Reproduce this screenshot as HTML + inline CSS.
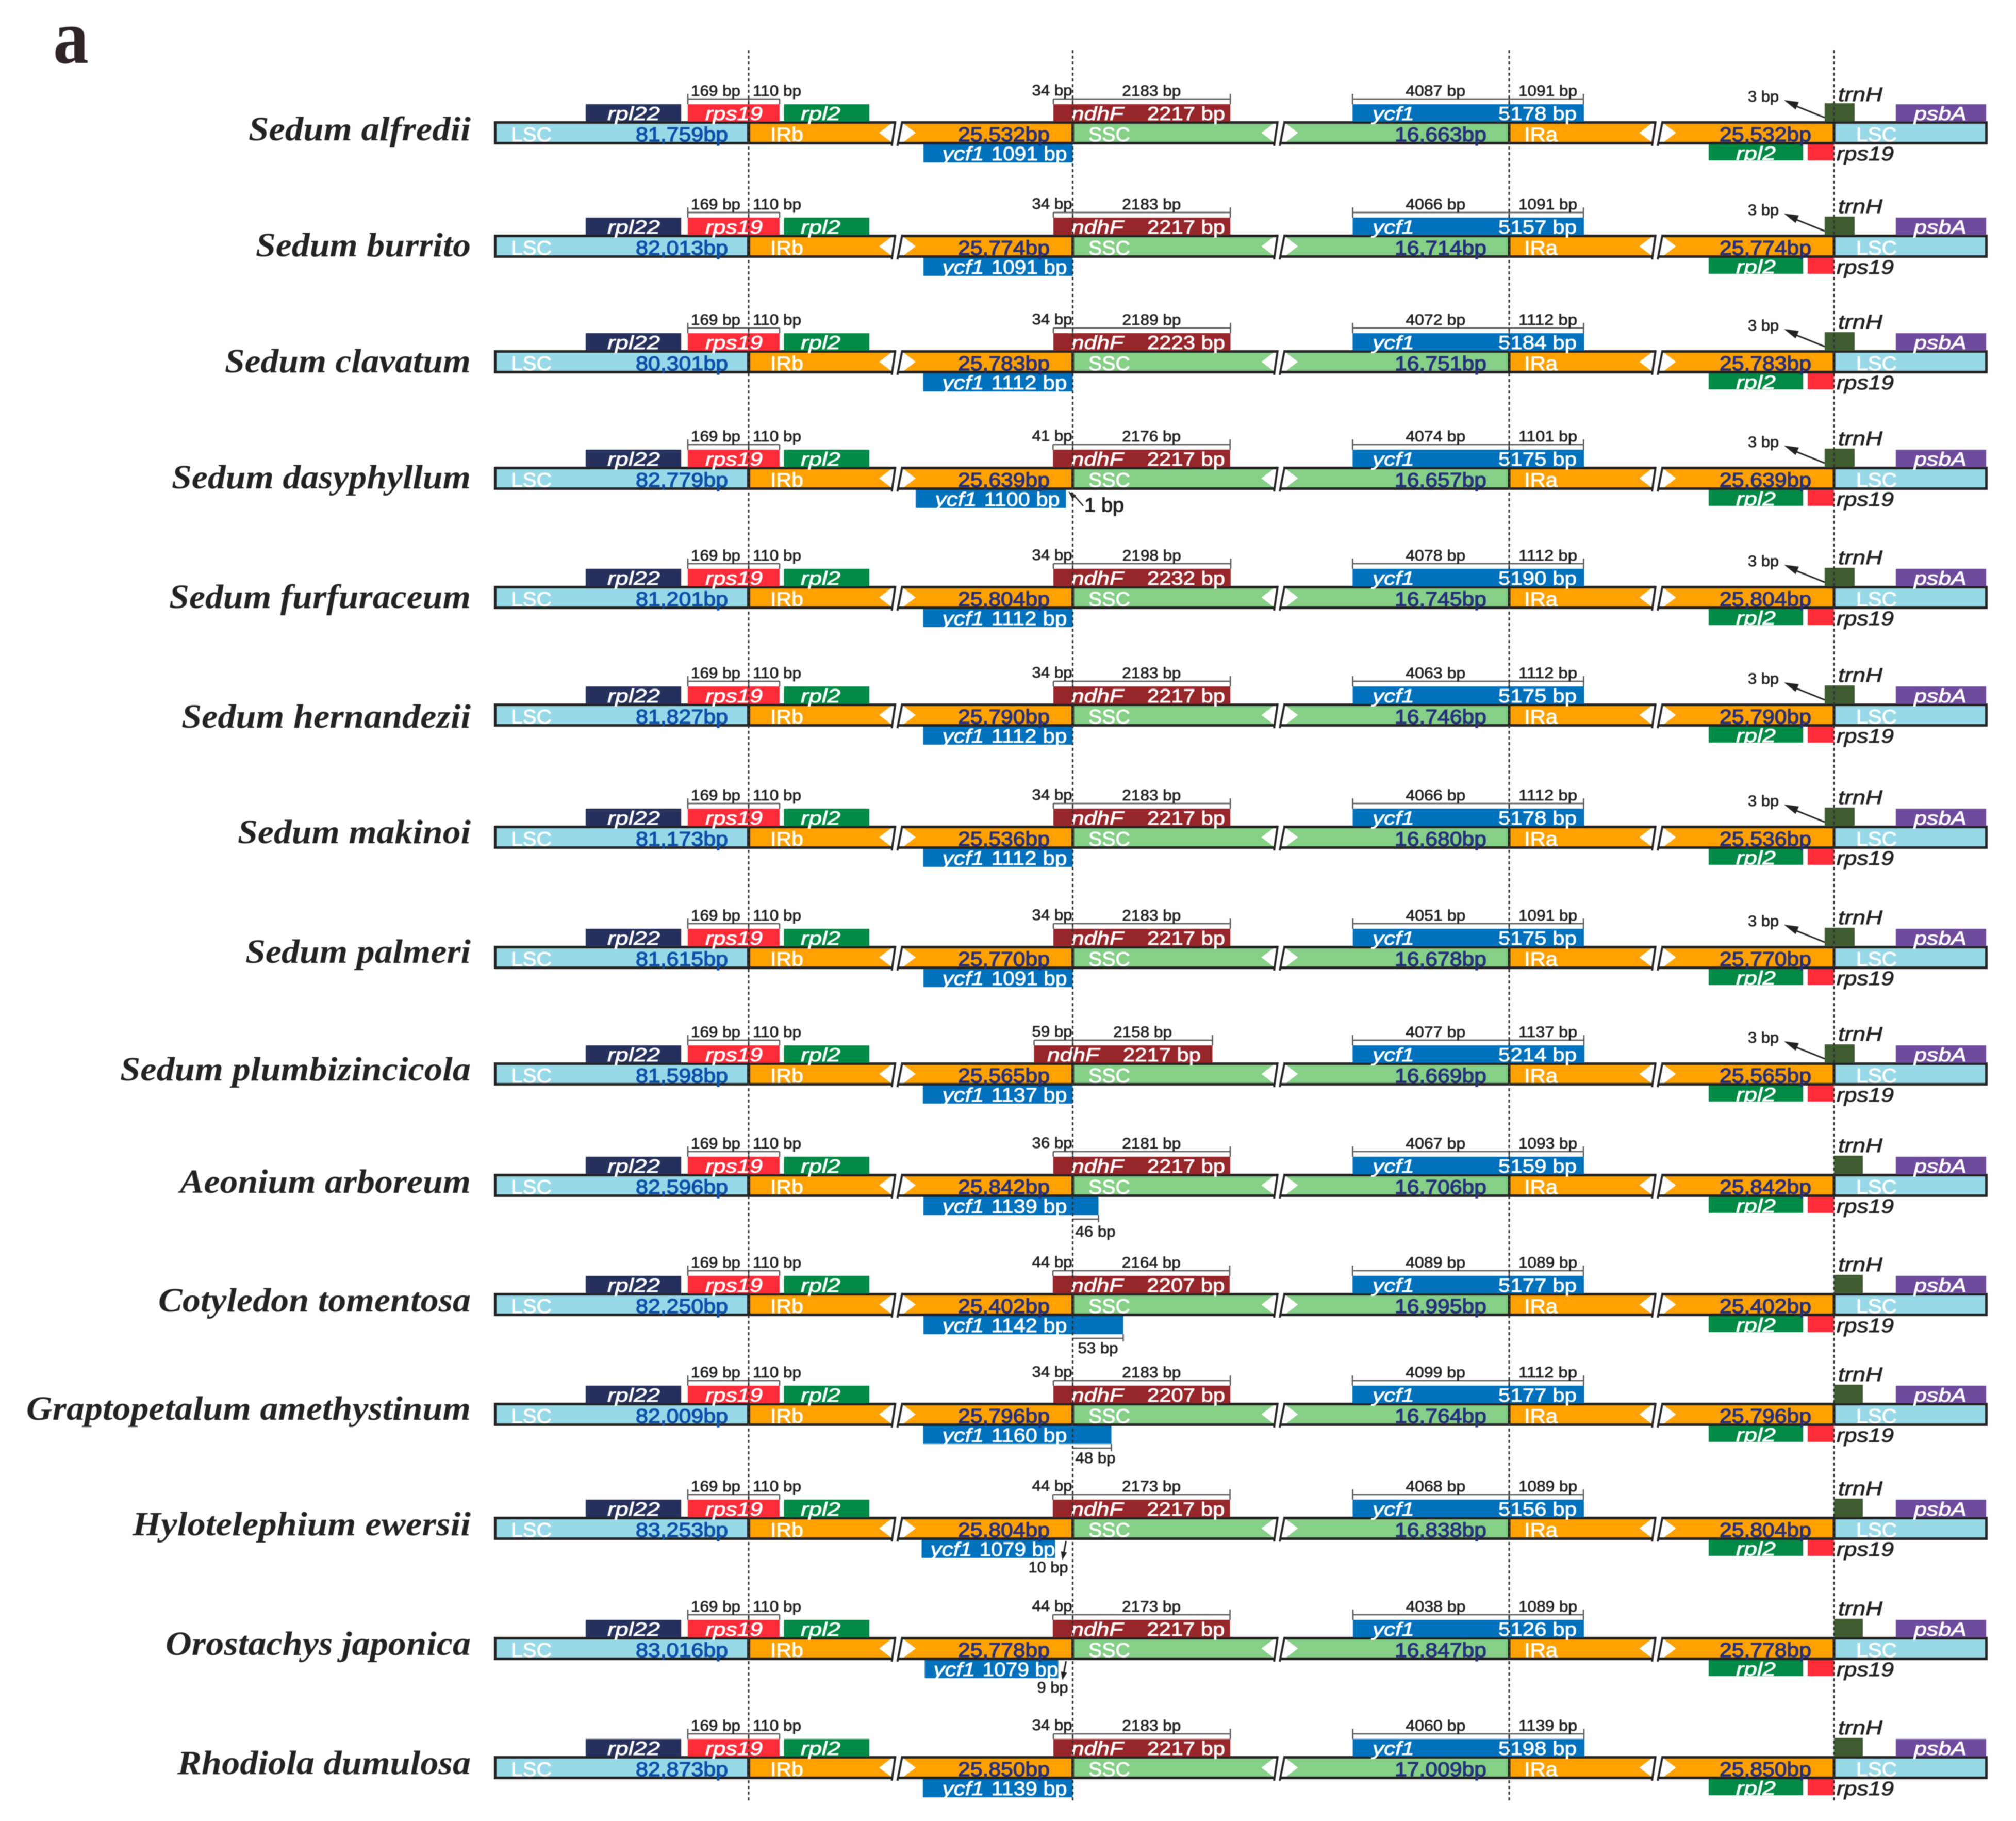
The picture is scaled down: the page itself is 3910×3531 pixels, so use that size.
<!DOCTYPE html>
<html lang="en">
<head>
<meta charset="utf-8">
<title>IR junction comparison of chloroplast genomes</title>
<style>
  html, body { margin: 0; padding: 0; background: #fff; }
  #chart { display: block; width: 3910px; height: 3531px; filter: blur(0.7px); }
  text { font-family: "Liberation Sans", sans-serif; }
</style>
</head>
<body>
<svg id="chart" xmlns="http://www.w3.org/2000/svg" width="3910" height="3531" viewBox="0 0 3910 3531">
  <rect x="0" y="0" width="3910" height="3531" fill="#ffffff"/>
  <text x="103" y="122" font-size="150" font-weight="700" fill="#2f2426" textLength="69" lengthAdjust="spacingAndGlyphs" style="font-family:'Liberation Serif',serif">a</text>
</svg>
<script>
/* ---------- data ---------- */
const species = ["Sedum alfredii","Sedum burrito","Sedum clavatum","Sedum dasyphyllum","Sedum furfuraceum","Sedum hernandezii","Sedum makinoi","Sedum palmeri","Sedum plumbizincicola","Aeonium arboreum","Cotyledon tomentosa","Graptopetalum amethystinum","Hylotelephium ewersii","Orostachys japonica","Rhodiola dumulosa"];
const lscBp = [81759,82013,80301,82779,81201,81827,81173,81615,81598,82596,82250,82009,83253,83016,82873];
const irBp = [25532,25774,25783,25639,25804,25790,25536,25770,25565,25842,25402,25796,25804,25778,25850];
const sscBp = [16663,16714,16751,16657,16745,16746,16680,16678,16669,16706,16995,16764,16838,16847,17009];
const rps19LeftBp = [169,169,169,169,169,169,169,169,169,169,169,169,169,169,169];
const rps19RightBp = [110,110,110,110,110,110,110,110,110,110,110,110,110,110,110];
const ndhfLeftBp = [34,34,34,41,34,34,34,34,59,36,44,34,44,44,34];
const ndhfRightBp = [2183,2183,2189,2176,2198,2183,2183,2183,2158,2181,2164,2183,2173,2173,2183];
const ndhfTotalBp = [2217,2217,2223,2217,2232,2217,2217,2217,2217,2217,2207,2207,2217,2217,2217];
const ycf1LeftBp = [4087,4066,4072,4074,4078,4063,4066,4051,4077,4067,4089,4099,4068,4038,4060];
const ycf1RightBp = [1091,1091,1112,1101,1112,1112,1112,1091,1137,1093,1089,1112,1089,1089,1139];
const ycf1TotalBp = [5178,5157,5184,5175,5190,5175,5178,5175,5214,5159,5177,5177,5156,5126,5198];
const ycf1PseudoBp = [1091,1091,1112,1100,1112,1112,1112,1091,1137,1139,1142,1160,1079,1079,1139];
/* positive: extends past the IRb/SSC junction; negative: stops short of it */
const ycf1OverBp = [0,0,0,-1,0,0,0,0,0,46,53,48,-10,-9,0];
const trnHGapBp = [3,3,3,3,3,3,3,3,3,0,0,0,0,0,0];

/* ---------- layout (rows are hand spaced in the figure) ---------- */
const rowTops = [235,455,679,905,1136,1364,1601,1834,2060,2276,2507,2720,2941,3174,3405];
const labelDrops = [37,42,43,42,43,47,34,33,35,37,36,33,36,35,35];
const labelWidths = [431,417,477,580,585,561,452,437,680,564,606,862,656,592,569];

const BAR_L = 958, BAR_R = 3855;
const J_LSC_IRB = 1452, J_IRB_SSC = 2080.5, J_SSC_IRA = 2927, J_IRA_LSC = 3557;
const BREAK_IRB = 1740, BREAK_SSC = 2481.5, BREAK_IRA = 3214.5;
const C = { lsc:"#98d9e8", ir:"#ffa100", ssc:"#85cf87", rpl22:"#26305c", rps19:"#fe2b39", rpl2:"#008a45",
            ndhf:"#96262a", ycf1:"#0071bd", psba:"#6f4b9d", trnh:"#3f5b30", ink:"#222222",
            lscText:"#0d4fa8", regionText:"#25307c", guide:"#555555" };

/* ---------- scales: bp to px (the diagram is not to true scale) ---------- */
function piecewise(domain, range) {
  return function (v) {
    let i = 0;
    while (i < domain.length - 2 && v > domain[i + 1]) i++;
    const t = (v - domain[i]) / (domain[i + 1] - domain[i]);
    return range[i] + t * (range[i + 1] - range[i]);
  };
}
const rps19LeftPx = piecewise([0, 169], [0, 118]);
const rps19RightPx = piecewise([0, 110], [0, 60]);
const ndhfLeftPx = piecewise([34, 44, 59], [37.5, 38.5, 75]);
const ndhfRightPx = piecewise([2158, 2164, 2198], [271, 304.5, 306.5]);
const ycf1LeftPx = piecewise([4038, 4099], [303, 304]);
const ycf1RightPx = piecewise([1089, 1139], [144, 145]);
const pseudoInIrPx = piecewise([1089, 1139], [289.5, 290.5]);
const pseudoOverPx = piecewise([0, 46, 48, 53], [0, 50, 75, 98]);
const pseudoGapPx = piecewise([1, 9, 10], [13, 28, 34]);
const pseudoGappedWidthPx = piecewise([1079, 1100], [259, 291.5]);
const trnHGapPx = piecewise([0, 3], [0, 18]);

/* ---------- drawing helpers ---------- */
const NS = "http://www.w3.org/2000/svg";
const svg = document.getElementById("chart");

function node(parent, tag, attrs) {
  const e = document.createElementNS(NS, tag);
  for (const k in attrs) e.setAttribute(k, attrs[k]);
  parent.appendChild(e);
  return e;
}
function box(parent, x0, y0, x1, y1, fill) {
  return node(parent, "rect", { x: x0, y: y0, width: x1 - x0, height: y1 - y0, fill: fill });
}
function poly(parent, pts, fill) {
  return node(parent, "polygon", { points: pts.map(p => p.join(",")).join(" "), fill: fill });
}
function seg(parent, x0, y0, x1, y1, stroke, w) {
  return node(parent, "line", { x1: x0, y1: y0, x2: x1, y2: y1, stroke: stroke, "stroke-width": w });
}
/* align: 0 start, 0.5 middle, 1 end; width is the printed width in the figure */
function label(parent, str, x, y, size, width, fill, align, style) {
  const s = style || {};
  const t = node(parent, "text", {
    x: x - width * align, y: y, "font-size": size, fill: fill,
    textLength: width, lengthAdjust: "spacingAndGlyphs"
  });
  if (s.italic) t.setAttribute("font-style", "italic");
  if (s.bold) t.setAttribute("font-weight", "700");
  if (s.stroke) { t.setAttribute("stroke", fill); t.setAttribute("stroke-width", s.stroke); }
  t.textContent = str;
  return t;
}
function commaBp(v) { return v.toLocaleString("en-US") + "bp"; }
function arrowHead(parent, tipX, tipY, fromX, fromY, len, halfW, fill) {
  const dx = tipX - fromX, dy = tipY - fromY, d = Math.hypot(dx, dy), ux = dx / d, uy = dy / d;
  return poly(parent, [[tipX, tipY],
    [tipX - ux * len - uy * halfW, tipY - uy * len + ux * halfW],
    [tipX - ux * len + uy * halfW, tipY - uy * len - ux * halfW]], fill);
}

/* ---------- one genome row ---------- */
function drawBreak(row, bx, T) {
  const gap = poly(row, [[bx - 4, T - 1], [bx + 10, T - 1], [bx + 1, T + 47], [bx - 11, T + 47]], "#ffffff");
  
  
  const fillGap = box(row, bx - 12, T + 5, bx + 13.5, T + 40, "#ffffff");
  
  
  const left = poly(row, [[bx - 35, T + 22.5], [bx - 12, T + 5], [bx - 12, T + 40]], "#ffffff");
  
  
  const right = poly(row, [[bx + 36, T + 22.5], [bx + 13, T + 5], [bx + 13, T + 40]], "#ffffff");
  
  
  const s1 = seg(row, bx - 10.5, T + 48, bx - 3.5, T + 0, C.ink, 4);
  
  
  const s2 = seg(row, bx + 0.5, T + 48, bx + 10, T + 0, C.ink, 4);
  
  
}

function drawBracket(row, x0, x1, T, leftTall, rightTall) {
  const h = seg(row, x0, T - 43, x1, T - 43, C.guide, 2.5);
  
  
  const a = seg(row, x0, leftTall ? T - 53 : T - 43, x0, T - 33, C.guide, 2.5);
  
  
  const b = seg(row, x1, rightTall ? T - 53 : T - 43, x1, T - 33, C.guide, 2.5);
  
  
}

function drawRow(i) {
  const T = rowTops[i];
  const INK = C.ink, WHITE = "#ffffff";
  const row = node(svg, "g", {});
  
  

  /* species label */
  const name = node(row, "text", {
    x: 913 - labelWidths[i], y: T + labelDrops[i], "font-size": 66, "font-weight": 700, "font-style": "italic", fill: INK,
    textLength: labelWidths[i], lengthAdjust: "spacingAndGlyphs"
  });
  name.style.fontFamily = "'Liberation Serif', serif";
  name.textContent = species[i];
  
  

  /* genome bar */
  const frame = box(row, BAR_L, T, BAR_R, T + 45, INK);
  
  
  const lscA = box(row, BAR_L + 5, T + 5, J_LSC_IRB - 3, T + 40, C.lsc);
  
  
  const irb = box(row, J_LSC_IRB + 3, T + 5, J_IRB_SSC - 2.5, T + 40, C.ir);
  
  
  const ssc = box(row, J_IRB_SSC + 2.5, T + 5, J_SSC_IRA - 2.5, T + 40, C.ssc);
  
  
  const ira = box(row, J_SSC_IRA + 2.5, T + 5, J_IRA_LSC - 2.5, T + 40, C.ir);
  
  
  const lscB = box(row, J_IRA_LSC + 2.5, T + 5, BAR_R - 5, T + 40, C.lsc);
  
  
  drawBreak(row, BREAK_IRB, T);
  drawBreak(row, BREAK_SSC, T);
  drawBreak(row, BREAK_IRA, T);

  /* genes above the bar */
  const rpl22 = box(row, 1136, T - 33, 1321, T + 1, C.rpl22);
  
  
  const rpsL = J_LSC_IRB - rps19LeftPx(rps19LeftBp[i]);
  const rpsR = J_LSC_IRB + rps19RightPx(rps19RightBp[i]);
  const rps = box(row, rpsL, T - 33, rpsR, T + 1, C.rps19);
  
  
  const rpl2 = box(row, 1520.5, T - 33, 1686, T + 1, C.rpl2);
  
  

  const nfL = ndhfLeftPx(ndhfLeftBp[i]);
  const nfR = ndhfRightPx(ndhfRightBp[i]);
  const ndhf = box(row, J_IRB_SSC - nfL, T - 33, J_IRB_SSC + nfR, T + 1, C.ndhf);
  
  

  const yL = J_SSC_IRA - ycf1LeftPx(ycf1LeftBp[i]);
  const yR = J_SSC_IRA + ycf1RightPx(ycf1RightBp[i]);
  const ycfTop = box(row, yL, T - 33, yR + 1, T + 1, C.ycf1);
  
  

  const gapPx = trnHGapPx(trnHGapBp[i]);
  const trnh = box(row, J_IRA_LSC - gapPx, T - 35, i < 9 ? J_IRA_LSC + 40 : J_IRA_LSC + 56, T + 1, C.trnh);
  
  
  const psba = box(row, 3677, T - 33, 3852, T + 1, C.psba);
  
  

  /* genes below the bar */
  const over = ycf1OverBp[i];
  let pseudoL, pseudoR, valueEnd;
  if (over < 0) {
    pseudoR = J_IRB_SSC - pseudoGapPx(-over);
    pseudoL = pseudoR - pseudoGappedWidthPx(ycf1PseudoBp[i]);
    valueEnd = pseudoR - (-over >= 9 ? 0 : 12);
  } else {
    pseudoL = J_IRB_SSC - pseudoInIrPx(ycf1PseudoBp[i] - over);
    pseudoR = J_IRB_SSC + pseudoOverPx(over);
    valueEnd = J_IRB_SSC - 11;
  }
  const ycfLow = box(row, pseudoL, T + 45, pseudoR, T + 80, C.ycf1);
  
  
  const rpl2b = box(row, 3314, T + 45, 3497, T + 76, C.rpl2);
  
  
  const rpsb = box(row, 3506, T + 45, J_IRA_LSC, T + 76, C.rps19);
  
  

  /* brackets */
  drawBracket(row, rpsL, J_LSC_IRB, T, true, false);
  drawBracket(row, J_LSC_IRB, rpsR, T, false, false);
  drawBracket(row, J_IRB_SSC - nfL, J_IRB_SSC, T, false, false);
  drawBracket(row, J_IRB_SSC, J_IRB_SSC + nfR, T, false, true);
  drawBracket(row, yL, J_SSC_IRA, T, true, false);
  drawBracket(row, J_SSC_IRA, yR, T, false, true);

  /* span labels */
  const SMALL = { stroke: 0.8 };
  const t169 = label(row, rps19LeftBp[i] + " bp", 1340, T - 49, 30, 96, INK, 0, SMALL);
  
  
  const t110 = label(row, rps19RightBp[i] + " bp", 1460, T - 49, 30, 94, INK, 0, SMALL);
  
  
  const tNfL = label(row, ndhfLeftBp[i] + " bp", J_IRB_SSC - 1, T - 50, 30, 78, INK, 1, SMALL);
  
  
  const tNfR = label(row, ndhfRightBp[i] + " bp", J_IRB_SSC + nfR / 2, T - 49, 30, 114, INK, 0.5, SMALL);
  
  
  const tYL = label(row, ycf1LeftBp[i] + " bp", (yL + J_SSC_IRA) / 2 + 9, T - 49, 30, 116, INK, 0.5, SMALL);
  
  
  const tYR = label(row, ycf1RightBp[i] + " bp", 3002, T - 49, 30, 114, INK, 0.5, SMALL);
  
  

  /* region labels */
  const BAR_STYLE = { stroke: 1.3 };
  const BAR_WHITE = { stroke: 0.9 };
  const tLsc = label(row, "LSC", 991, T + 39, 39, 79, WHITE, 0, BAR_WHITE);
  
  
  const vLsc = label(row, commaBp(lscBp[i]), 1233, T + 39, 39, 179, C.lscText, 0, BAR_STYLE);
  
  
  const tIrb = label(row, "IRb", 1494, T + 39, 39, 64, WHITE, 0, BAR_WHITE);
  
  
  const vIrb = label(row, commaBp(irBp[i]), 1858, T + 39, 39, 178, C.regionText, 0, BAR_STYLE);
  
  
  const tSsc = label(row, "SSC", 2111, T + 39, 39, 81, WHITE, 0, BAR_WHITE);
  
  
  const vSsc = label(row, commaBp(sscBp[i]), 2705, T + 39, 39, 178, C.regionText, 0, BAR_STYLE);
  
  
  const tIra = label(row, "IRa", 2956, T + 39, 39, 65, WHITE, 0, BAR_WHITE);
  
  
  const vIra = label(row, commaBp(irBp[i]), 3335, T + 39, 39, 178, C.regionText, 0, BAR_STYLE);
  
  
  const tLscB = label(row, "LSC", 3600, T + 39, 39, 79, WHITE, 0, BAR_WHITE);
  
  

  /* gene labels */
  const GENE = { italic: true, stroke: 0.9 };
  const WHITE_NUM = { stroke: 0.9 };
  const gRpl22 = label(row, "rpl22", 1178, T - 2, 37, 102, WHITE, 0, GENE);
  
  
  const gRps = label(row, "rps19", 1368, T - 2, 37, 111, WHITE, 0, GENE);
  
  
  const gRpl2 = label(row, "rpl2", 1553, T - 2, 37, 77, WHITE, 0, GENE);
  
  
  const shift = (nfL - 38) * 1.27 > 0 ? (nfL - 38) * 1.27 : 0;
  const gNd = label(row, "ndhF", 2078 - shift, T - 2, 37, 101, WHITE, 0, GENE);
  
  
  const vNd = label(row, ndhfTotalBp[i] + " bp", 2376 - shift, T - 2, 37, 151, WHITE, 1, WHITE_NUM);
  
  
  const gY = label(row, "ycf1", 2662, T - 2, 37, 81, WHITE, 0, GENE);
  
  
  const vY = label(row, ycf1TotalBp[i] + " bp", 2906, T - 2, 37, 152, WHITE, 0, WHITE_NUM);
  
  
  const gTrn = label(row, "trnH", 3565, T - (i === 0 ? 39 : 42), 38, 86, INK, 0, { italic: true, stroke: 0.9 });
  
  
  const gPsb = label(row, "psbA", 3712, T - 2, 37, 102, WHITE, 0, GENE);
  
  

  const gLow = label(row, "ycf1", valueEnd - 147 - 14, T + 76, 38, 81, WHITE, 1, GENE);
  
  
  const vLow = label(row, ycf1PseudoBp[i] + " bp", valueEnd, T + 76, 38, 147, WHITE, 1, WHITE_NUM);
  
  
  const gRpl2b = label(row, "rpl2", 3367, T + 75, 37, 77, WHITE, 0, GENE);
  
  
  const gRpsb = label(row, "rps19", 3562, T + 76, 38, 111, INK, 0, { italic: true, stroke: 0.9 });
  
  

  /* trnH gap arrow */
  if (trnHGapBp[i] > 0) {
    const gapLine = seg(row, J_IRA_LSC - gapPx, T - 7, 3472, T - 34, INK, 3);
    
    
    const gapHead = arrowHead(row, 3460, T - 41, J_IRA_LSC - gapPx, T - 7, 28, 8, INK);
    
    
    const gapText = label(row, trnHGapBp[i] + " bp", 3390, T - 38, 30, 60, INK, 0, SMALL);
    
    
  }

  /* ycf1 pseudogene end annotation */
  if (over > 0) {
    const ox = J_IRB_SSC + pseudoOverPx(over);
    const oh = seg(row, J_IRB_SSC, T + 88, ox, T + 88, C.guide, 2.5);
    
    
    const ot = seg(row, ox, T + 80, ox, T + 94, C.guide, 2.5);
    
    
    const ol = label(row, over + " bp", J_IRB_SSC + (over === 53 ? 10 : 5), T + (over === 46 ? 122 : 117), 30, 78, INK, 0, SMALL);
    
    
  } else if (over < -1) {
    const ax = J_IRB_SSC - 13;
    const al = seg(row, ax, T + 47, ax - 5, T + 74, INK, 3);
    
    
    const ah = arrowHead(row, ax - 7, T + 84, ax, T + 47, 16, 6, INK);
    
    
    const at = label(row, (-over) + " bp", J_IRB_SSC - 9, T + 108, 30, -over >= 10 ? 77 : 60, INK, 1, SMALL);
    
    
  } else if (over === -1) {
    const bl = seg(row, 2078, T + 50, 2101, T + 76, INK, 2.5);
    
    
    const bh = arrowHead(row, 2072, T + 48, 2101, T + 76, 16, 5, INK);
    
    
    const bt = label(row, "1 bp", 2103, T + 87, 38, 77, INK, 0, { stroke: 1.2 });
    
    
  }
}

species.forEach(function (_, i) { drawRow(i); });

/* junction guides sit on top of everything */
[J_LSC_IRB, J_IRB_SSC, J_SSC_IRA, J_IRA_LSC].forEach(function (x) {
  const guide = seg(svg, x, 97, x, 3495, "#333333", 3);
  
  
  guide.setAttribute("stroke-dasharray", "6 5");
});
</script>
</body>
</html>
